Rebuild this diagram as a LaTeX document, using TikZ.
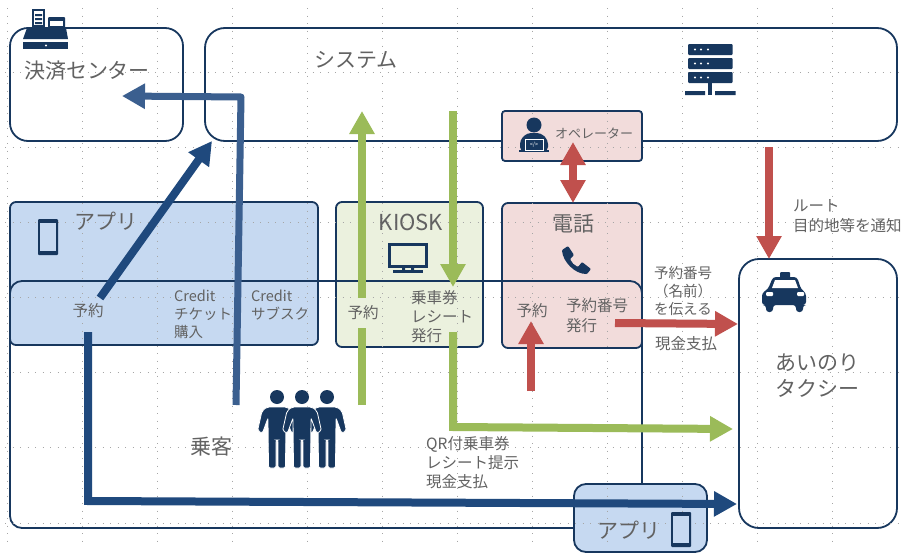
\documentclass[tikz,border=0pt]{standalone}
\usepackage{fontspec}
\setmainfont{Noto Sans CJK JP}
\usetikzlibrary{arrows.meta}
\definecolor{navy}{HTML}{17375E}
\definecolor{appblue}{HTML}{C6D9F1}
\definecolor{kioskgreen}{HTML}{EBF1DE}
\definecolor{telpink}{HTML}{F2DCDB}
\definecolor{txtgrey}{HTML}{626262}
\definecolor{arblue}{HTML}{1F497D}
\definecolor{arblue2}{HTML}{3B5F8F}
\definecolor{argreen}{HTML}{9BBB59}
\definecolor{arred}{HTML}{C0504D}
\tikzset{
  box/.style={draw=navy,line width=1.8pt,inner sep=0pt},
  lbl/.style={text=txtgrey,inner sep=0pt,font=\fontsize{15.5}{19}\selectfont,align=left},
  big/.style={lbl,font=\fontsize{21}{26}\selectfont},
  gap/.style={fill=#1,inner sep=0pt,minimum width=30pt,minimum height=30pt,text=txtgrey,font=\fontsize{15.5}{19}\selectfont},
  flow/.style={line width=#1,-{Triangle[length=23pt,width=24pt]}},
  flow/.default=8pt,
  icon/.style={fill=navy,draw=none}
}
\begin{document}
\begin{tikzpicture}[x=1pt,y=-1pt]
    \useasboundingbox (0,0) rectangle (906,554);
    \fill[white] (0,0) rectangle (906,554);
    % boxes
    \node[box,fill=appblue,rounded corners=6pt,minimum width=308pt,minimum height=143pt] (appbox) at (164,273.5) {};
    \node[box,fill=kioskgreen,rounded corners=6pt,minimum width=147pt,minimum height=145pt] (kioskbox) at (409.5,274.5) {};
    \node[box,fill=telpink,rounded corners=6pt,minimum width=140pt,minimum height=145pt] (telbox) at (572,275.5) {};
    \node[box,rounded corners=12pt,minimum width=632pt,minimum height=247pt] (riders) at (326,404.5) {};
    \node[box,rounded corners=18pt,minimum width=173pt,minimum height=113pt] (center) at (96.5,84.5) {};
    \node[box,rounded corners=20pt,minimum width=692pt,minimum height=113pt] (system) at (551,84.5) {};
    \node[box,fill=telpink,rounded corners=3pt,minimum width=140pt,minimum height=50pt] (operator) at (572,136) {};
    \node[box,rounded corners=20pt,minimum width=158pt,minimum height=269pt] (taxi) at (818,393.5) {};
    \node[box,fill=appblue,rounded corners=12pt,minimum width=133pt,minimum height=68pt] (appmini) at (640.5,518) {};
    % grid
    \foreach \gx in {7,82,157,232,307,382,457,532,607,682,757,832}
      \draw[black!35,line width=0.8pt,dash pattern=on 0.8pt off 6.7pt] (\gx,8) -- (\gx,545);
    \foreach \gy in {72,147,222,297,372,447,523}
      \draw[black!35,line width=0.8pt,dash pattern=on 0.8pt off 6.7pt] (5,\gy) -- (902,\gy);
    % free ends
    \coordinate (payfrom) at (236,405);
    \coordinate (paybend) at (241,97);
    \coordinate (payto) at (122,96);
    \coordinate (kioskfrom) at (362,405);
    \coordinate (kioskup) at (362,111);
    \coordinate (kioskdownfrom) at (453,111);
    \coordinate (kioskdownto) at (453,287);
    \coordinate (ridefrom) at (453,332);
    \coordinate (ridebend) at (453,427);
    \coordinate (rideto) at (733,429);
    \coordinate (appfrom) at (88,332);
    \coordinate (appbend) at (88,501);
    \coordinate (appto) at (737,504);
    \coordinate (appup) at (100,298);
    \coordinate (appsys) at (212,141);
    \coordinate (opdown) at (573,203);
    \coordinate (opup) at (573,142);
    \coordinate (routefrom) at (769,147);
    \coordinate (routeto) at (769,259);
    \coordinate (telfrom) at (531,391);
    \coordinate (telto) at (531,321);
    \coordinate (numfrom) at (615,323);
    \coordinate (numto) at (738,324);
    % texts in the boxes
    \node[big] (centertxt) at (87,71) {決済センター};
    \node[big] (systemtxt) at (356,60) {システム};
    \node[big] (apptxt) at (106,221) {アプリ};
    \node[big,font=\fontsize{22}{26}\selectfont] (kiosktxt) at (411,222) {KIOSK};
    \node[big] (teltxt) at (573,224) {電話};
    \node[lbl,font=\fontsize{13}{15}\selectfont] (optxt) at (594,133) {オペレーター};
    \node[lbl] (appyoyaku) at (88,311) {予約};
    \node[lbl,font=\fontsize{14.5}{18}\selectfont,anchor=north west] (chiket) at (174,290) {Credit\\チケット\\購入};
    \node[lbl,font=\fontsize{14.5}{18}\selectfont,anchor=north west] (subsc) at (251,290) {Credit\\サブスク};
    \node[lbl] (telyoyaku) at (532,311) {予約};
    \node[lbl,anchor=north west,font=\fontsize{15.5}{20}\selectfont] (telnum) at (566,298) {予約番号\\発行};
    \node[lbl,anchor=north west] (kioskissue) at (411,290) {乗車券\\レシート\\発行};
    \node[big] (passenger) at (211,447) {乗客};
    \node[lbl,anchor=north west] (qr) at (426,436) {QR付乗車券\\レシート提示\\現金支払};
    \node[lbl,font=\fontsize{14.5}{18}\selectfont,align=center] (tellto) at (683,291) {予約番号\\（名前）\\を伝える};
    \node[lbl] (cash) at (686,344) {現金支払};
    \node[lbl,anchor=north west,font=\fontsize{15.5}{20}\selectfont] (route) at (793,199) {ルート\\目的地等を通知};
    \node[big,anchor=north west] (taxitxt) at (775,354) {あいのり\\タクシー};
    \node[big] (appminitxt) at (629,530) {アプリ};
    % arrows
    \draw[flow,arblue] (appup) -- (appsys);
    \draw[flow=7pt,arblue2,line join=round] (payfrom) -- (paybend) -- (payto);
    \draw[flow,arblue] (appfrom) -- (appbend) -- (appto);
    \draw[flow,argreen] (kioskfrom) -- (kioskup);
    \draw[flow,argreen] (kioskdownfrom) -- (kioskdownto);
    \draw[flow,argreen] (ridefrom) -- (ridebend) -- (rideto);
    \draw[arred,line width=8pt,{Triangle[length=23pt,width=24pt]}-{Triangle[length=23pt,width=24pt]}] (opup) -- (opdown);
    \draw[flow,arred] (routefrom) -- (routeto);
    \draw[flow,arred] (telfrom) -- (telto);
    \draw[flow,arred] (numfrom) -- (numto);
    \node[gap=kioskgreen] (kioskyoyaku) at (363,313) {予約};
    % register
    \fill[icon] (32,9) rectangle (45,27);
    \fill[white] (34,11) rectangle (43,25);
    \fill[icon] (35,14) rectangle (42,16) (35,18) rectangle (42,20) (35,22) rectangle (42,24);
    \fill[icon,rounded corners=1pt] (48,17) rectangle (65,30);
    \fill[white] (50,21) rectangle (63,26);
    \fill[icon] (27,28) -- (66,28) -- (68,39) -- (23,39) -- cycle;
    \fill[icon] (23,42) rectangle (68,49);
    \fill[white] (46,45.5) circle (1.2);
    % server
    \foreach \sy in {44,58,72}{
      \fill[icon,rounded corners=1pt] (688,\sy) rectangle (732.5,\sy+11);
      \foreach \sx in {695,701,708}
        \fill[white] (\sx,\sy+5.5) circle (1.2);
    }
    \fill[icon] (708,83) rectangle (712,95);
    \fill[icon] (685,91) rectangle (705,95) (715,91) rectangle (735.5,95);
    % smartphones
    \fill[icon,rounded corners=1pt] (38,219) rectangle (58,255);
    \fill[appblue] (40,223) rectangle (56,251);
    \fill[icon,rounded corners=1pt] (671,512) rectangle (691,547);
    \fill[appblue] (673,516) rectangle (689,543);
    % monitor
    \draw[navy,line width=2.5pt] (389.5,244.5) rectangle (426.5,266.5);
    \fill[icon] (402,266) rectangle (405,270) (411,266) rectangle (414,270);
    \fill[icon] (393,270) rectangle (423,273);
    % telephone
    \fill[icon,rounded corners=1pt] (568,246) -- (574,255) -- (570,259) .. controls (572,263) and (574,265) .. (578,267) -- (582,262) -- (591,269) -- (587,274) .. controls (575,274) and (563,262) .. (562,250) -- cycle;
    % taxi
    \fill[icon,rounded corners=1pt] (780,272) rectangle (790,278);
    \fill[icon,rounded corners=3pt] (773,277) -- (797,277) -- (801,289) -- (806,293) -- (806,305) -- (803,305) -- (803,312) -- (796,312) -- (796,305) -- (773,305) -- (773,312) -- (766,312) -- (766,305) -- (762,305) -- (762,293) -- (768,289) -- cycle;
    \fill[white] (775,280) -- (795,280) -- (798,288) -- (772,288) -- cycle;
    \fill[white,rounded corners=1pt] (766,292) rectangle (773,296) (797,292) rectangle (804,296);
    % people
    \foreach \px in {277,327,302}{
      \fill[icon] (\px,397) circle (7);
      \fill[icon,rounded corners=2pt,draw=white,line width=0.8pt] (\px-10,407) -- (\px+10,407) -- (\px+15,411) -- (\px+19.5,431) -- (\px+14.5,433) -- (\px+9,418) -- (\px+8.5,468) -- (\px+1,468) -- (\px+1,440) -- (\px-1,440) -- (\px-1,468) -- (\px-8.5,468) -- (\px-9,418) -- (\px-14.5,433) -- (\px-19.5,431) -- (\px-15,411) -- cycle;
    }
    % operator
    \fill[icon] (534,125) circle (7.5);
    \fill[icon,rounded corners=4pt] (520,151) -- (520,140) -- (527,133) -- (541,133) -- (548,140) -- (548,151) -- cycle;
    \fill[icon] (519,150) rectangle (549,152);
    \draw[white,line width=0.7pt] (525,139) rectangle (543,150);
    \node[text=white,inner sep=0pt,font=\fontsize{5.5}{6}\selectfont] (codetxt) at (534,145) {</>};
\end{tikzpicture}
\end{document}
